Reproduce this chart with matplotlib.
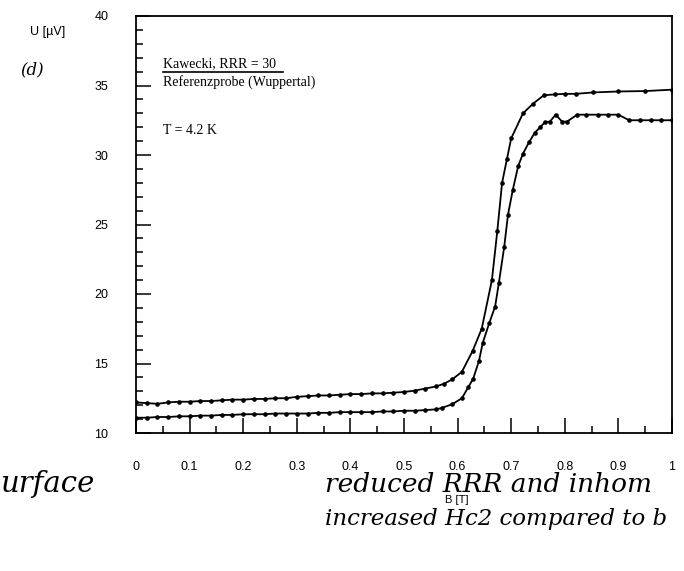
import numpy as np
import matplotlib
matplotlib.use("Agg")
import matplotlib.pyplot as plt
from matplotlib.lines import Line2D
from matplotlib.ticker import MultipleLocator

# B [T] and U [uV]
b_upper = [0.0, 0.02, 0.04, 0.06, 0.08, 0.10, 0.12, 0.14, 0.16, 0.18, 0.20,
           0.22, 0.24, 0.26, 0.28, 0.30, 0.32, 0.34, 0.36, 0.38, 0.40, 0.42,
           0.44, 0.46, 0.48, 0.50, 0.52, 0.54, 0.56, 0.575, 0.59, 0.608,
           0.628, 0.645, 0.664, 0.674, 0.683, 0.692, 0.70, 0.722, 0.741,
           0.761, 0.782, 0.80, 0.82, 0.853, 0.90, 0.95, 1.0]
u_upper = [12.2, 12.15, 12.1, 12.2, 12.25, 12.25, 12.3, 12.3, 12.35, 12.4,
           12.4, 12.45, 12.45, 12.5, 12.5, 12.6, 12.65, 12.7, 12.7, 12.75,
           12.8, 12.8, 12.85, 12.85, 12.9, 12.95, 13.05, 13.2, 13.35, 13.55,
           13.86, 14.4, 15.9, 17.5, 21.0, 24.5, 28.0, 29.7, 31.2, 33.0, 33.7,
           34.3, 34.36, 34.4, 34.4, 34.5, 34.57, 34.6, 34.7]

b_lower = [0.0, 0.02, 0.04, 0.06, 0.08, 0.10, 0.12, 0.14, 0.16, 0.18, 0.20,
           0.22, 0.24, 0.26, 0.28, 0.30, 0.32, 0.34, 0.36, 0.38, 0.40, 0.42,
           0.44, 0.46, 0.48, 0.50, 0.52, 0.54, 0.56, 0.57, 0.59, 0.608, 0.62,
           0.629, 0.64, 0.647, 0.659, 0.67, 0.677, 0.687, 0.694, 0.703, 0.713,
           0.722, 0.733, 0.744, 0.754, 0.763, 0.772, 0.783, 0.795, 0.804,
           0.823, 0.84, 0.862, 0.88, 0.90, 0.92, 0.94, 0.96, 0.98, 1.0]
u_lower = [11.1, 11.1, 11.15, 11.15, 11.2, 11.2, 11.25, 11.25, 11.3, 11.3,
           11.35, 11.35, 11.35, 11.4, 11.4, 11.4, 11.4, 11.45, 11.45, 11.5,
           11.5, 11.5, 11.5, 11.55, 11.55, 11.6, 11.6, 11.65, 11.7, 11.8,
           12.07, 12.5, 13.3, 13.9, 15.2, 16.5, 17.9, 19.1, 20.8, 23.4, 25.7,
           27.5, 29.2, 30.1, 30.9, 31.6, 32.0, 32.36, 32.4, 32.9, 32.4, 32.4,
           32.9, 32.9, 32.9, 32.9, 32.9, 32.5, 32.5, 32.5, 32.5, 32.5]

x_ticks = [0, 0.1, 0.2, 0.3, 0.4, 0.5, 0.6, 0.7, 0.8, 0.9, 1]
x_labels = ["0", "0.1", "0.2", "0.3", "0.4", "0.5", "0.6", "0.7", "0.8", "0.9", "1"]
y_ticks = [10, 15, 20, 25, 30, 35, 40]

W, H = 684, 571
fig = plt.figure(figsize=(W / 100, H / 100), dpi=100)
ax = fig.add_axes([136 / W, 1 - 433 / H, (672 - 136) / W, (433 - 16) / H])

for b, u in [(b_upper, u_upper), (b_lower, u_lower)]:
    ax.plot(b, u, color="black", lw=1.3, marker="o", ms=2.3, mfc="black", mec="black")

ax.set_xlim(0, 1)
ax.set_ylim(10, 40)
ax.set_xticks(x_ticks)
ax.set_xticklabels(x_labels)
ax.set_yticks(y_ticks)
ax.xaxis.set_minor_locator(MultipleLocator(0.05))
ax.yaxis.set_minor_locator(MultipleLocator(1))
ax.tick_params(which="both", direction="in", top=False, right=False, width=1.1,
               colors="black")
ax.tick_params(which="major", length=11)
ax.tick_params(which="minor", length=5)
ax.tick_params(axis="x", which="major", pad=20, labelsize=9)
ax.tick_params(axis="y", which="major", pad=20, labelsize=9)
for lab in ax.get_xticklabels() + ax.get_yticklabels():
    lab.set_family("Liberation Sans")
for s in ax.spines.values():
    s.set_linewidth(1.3)

sans = "Liberation Sans"
serif = "Liberation Serif"
fig.text(30 / W, 1 - 32 / H, "U [µV]", family=sans, fontsize=9, va="center")
fig.text(20 / W, 1 - 70 / H, "(d)", family="DejaVu Serif", style="italic", fontsize=12, va="center")
fig.text(445 / W, 1 - 500 / H, "B [T]", family=sans, fontsize=8, va="center")

fig.text(163 / W, 1 - 64 / H, "Kawecki, RRR = 30", family=serif, fontsize=10, va="center")
fig.add_artist(Line2D([163 / W, 283 / W], [1 - 72 / H, 1 - 72 / H], color="black", lw=1.2))
fig.text(163 / W, 1 - 82 / H, "Referenzprobe (Wuppertal)", family=serif, fontsize=10, va="center")
fig.text(163 / W, 1 - 130 / H, "T = 4.2 K", family=serif, fontsize=10, va="center")

hand = dict(family="DejaVu Serif", style="italic", va="center")
fig.text(0, 1 - 484 / H, "urface", fontsize=21, **hand)
fig.text(325 / W, 1 - 484 / H, "reduced RRR and inhom", fontsize=19, **hand)
fig.text(325 / W, 1 - 519 / H, "increased Hc2 compared to b", fontsize=16.5, **hand)

fig.savefig("out.png", dpi=100)
